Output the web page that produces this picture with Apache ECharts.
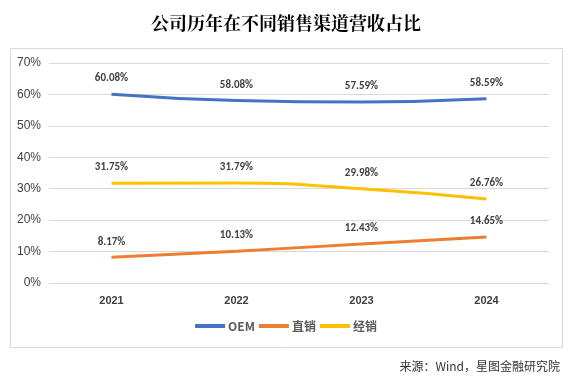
<!DOCTYPE html>
<html><head><meta charset="utf-8">
<script src="https://cdn.jsdelivr.net/npm/echarts@6/dist/echarts.min.js"></script>
<style>html,body{margin:0;padding:0;background:#fff}#c{width:572px;height:381px}</style>
</head><body><div id="c"></div>
<script>
const categories = ['2021', '2022', '2023', '2024'];
const oem = [60.08, 58.08, 57.59, 58.59];
const direct = [8.17, 10.13, 12.43, 14.65];
const dealer = [31.75, 31.79, 29.98, 26.76];
const seriesNames = ['OEM', '直销', '经销'];
const titleText = '公司历年在不同销售渠道营收占比';
const sourceText = '来源：Wind，星图金融研究院';

const chart = echarts.init(document.getElementById('c'));
const lbl = {show: true, position: 'top', distance: 10, color: '#404040', fontSize: 11, fontWeight: 'bold',
  fontFamily: 'Calibri, "Liberation Sans", "Noto Sans", sans-serif',
  formatter: p => p.value.toFixed(2) + '%'};
function mk(name, data, color) {
  return {name, type: 'line', data, smooth: true, symbol: 'circle', symbolSize: 0,
    showSymbol: true,
    lineStyle: {width: 3, color}, itemStyle: {color}, label: lbl};
}
chart.setOption({
  animation: false,
  backgroundColor: '#fff',
  title: {text: titleText, left: 'center', top: 9,
    textStyle: {fontSize: 18, fontWeight: 'bold', color: '#000',
      fontFamily: '"Noto Serif CJK SC", "Noto Sans CJK SC", serif'}},
  graphic: [
    {type: 'rect', shape: {x: 10.5, y: 48.5, width: 552, height: 299},
     style: {fill: 'none', stroke: '#d9d9d9', lineWidth: 1}, silent: true, z: -1},
    {type: 'text', right: 12, top: 360,
     style: {text: sourceText, fontSize: 12, fill: '#333',
       fontFamily: '"Noto Sans CJK SC", sans-serif'}}
  ],
  legend: {data: seriesNames, bottom: 44, left: 'center', itemWidth: 30, itemHeight: 4,
    itemGap: 4, icon: 'rect',
    textStyle: {color: '#595959', fontSize: 12, fontWeight: 'bold', padding: [0, 0, 0, -2],
      fontFamily: '"Noto Sans CJK SC", sans-serif'}},
  grid: {left: 49, right: 23, top: 63, bottom: 98},
  xAxis: {type: 'category', data: categories, boundaryGap: true,
    axisLine: {show: false}, axisTick: {show: false},
    axisLabel: {color: '#404040', fontSize: 11, fontWeight: 'bold', margin: 12}},
  yAxis: {type: 'value', min: 0, max: 70, interval: 10,
    axisLabel: {formatter: '{value}%', color: '#404040', fontSize: 12, margin: 8},
    splitLine: {lineStyle: {color: '#d9d9d9', width: 1}},
    axisLine: {show: false}, axisTick: {show: false}},
  series: [mk('OEM', oem, '#4472C4'), mk('直销', direct, '#ED7D31'), mk('经销', dealer, '#FFC000')]
});
</script></body></html>
